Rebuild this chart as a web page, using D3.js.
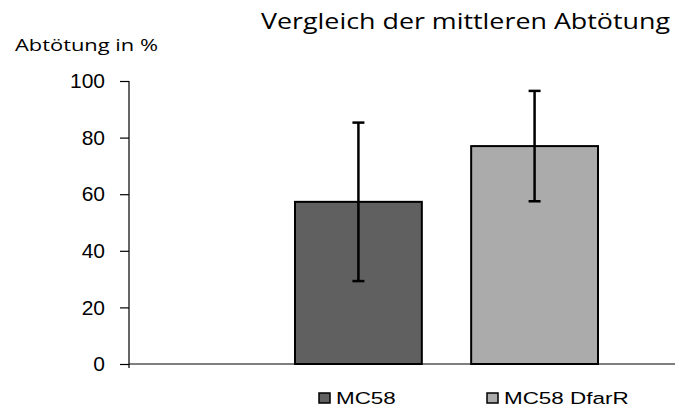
<!DOCTYPE html>
<html lang="de">
<head>
<meta charset="UTF-8">
<title>Vergleich der mittleren Abtötung</title>
<script src="https://d3js.org/d3.v7.min.js"></script>
<style>
  body { margin: 0; background: #fff; }
  svg { display: block; }
  .tick text { font-family: "Liberation Sans", Arial, sans-serif; font-size: 21px; fill: #000; }
</style>
</head>
<body>
<svg width="675" height="410"></svg>
<script>
const series = ["MC58", "MC58 DfarR"];
const means = [57.3, 77.0];
const errors = [28.0, 19.5];
const colors = ["#606060", "#ababab"];
const yTicks = [0, 20, 40, 60, 80, 100];

const margin = { top: 81, right: 0, bottom: 46, left: 129 };
const width = 675 - margin.left - margin.right;
const height = 410 - margin.top - margin.bottom;

const svg = d3.select("svg");
const g = svg.append("g").attr("transform", `translate(${margin.left},${margin.top})`);

const y = d3.scaleLinear().domain([0, 100]).range([height, 0]);
const x = d3.scaleBand().domain(series).range([166, 469]).paddingInner(0.28).paddingOuter(0);

// y axis
const yAxis = g.append("g")
    .call(d3.axisLeft(y).tickValues(yTicks).tickSize(9).tickPadding(15));
yAxis.selectAll("path, line").attr("stroke", "#000").attr("stroke-width", 1.2);
yAxis.select(".domain").attr("d", `M-9,0.5H0V${height + 4}`);

// x axis line
g.append("line")
    .attr("x1", 0).attr("x2", width)
    .attr("y1", y(0)).attr("y2", y(0))
    .attr("stroke", "#000").attr("stroke-width", 1.2);

// bars
g.selectAll(".bar").data(series).enter().append("rect")
    .attr("x", d => x(d))
    .attr("y", (d, i) => y(means[i]))
    .attr("width", x.bandwidth())
    .attr("height", (d, i) => y(0) - y(means[i]))
    .attr("fill", (d, i) => colors[i])
    .attr("stroke", "#000")
    .attr("stroke-width", 2);

// error bars
const eb = g.selectAll(".err").data(series).enter().append("g")
    .attr("transform", d => `translate(${x(d) + x.bandwidth() / 2},0)`);
eb.append("line")
    .attr("y1", (d, i) => y(means[i] + errors[i]))
    .attr("y2", (d, i) => y(means[i] - errors[i]))
    .attr("stroke", "#000").attr("stroke-width", 2.5);
eb.append("line")
    .attr("x1", -6).attr("x2", 6)
    .attr("y1", (d, i) => y(means[i] + errors[i]))
    .attr("y2", (d, i) => y(means[i] + errors[i]))
    .attr("stroke", "#000").attr("stroke-width", 2.5);
eb.append("line")
    .attr("x1", -6).attr("x2", 6)
    .attr("y1", (d, i) => y(means[i] - errors[i]))
    .attr("y2", (d, i) => y(means[i] - errors[i]))
    .attr("stroke", "#000").attr("stroke-width", 2.5);

// legend (text is stretched wide like the original)
const legX = [319, 487];
series.forEach((s, i) => {
    svg.append("rect")
        .attr("x", legX[i]).attr("y", 393)
        .attr("width", 11).attr("height", 10)
        .attr("fill", colors[i]).attr("stroke", "#000").attr("stroke-width", 1.5);
    svg.append("text")
        .attr("transform", `translate(${legX[i] + 17},404) scale(1.32,1)`)
        .attr("font-family", "Liberation Sans, Arial, sans-serif")
        .attr("font-size", 17)
        .text(s);
});

// title and axis label
svg.append("text")
    .attr("x", 261).attr("y", 29)
    .attr("font-family", "Open Sans, sans-serif")
    .attr("font-size", 22)
    .attr("textLength", 409)
    .attr("lengthAdjust", "spacingAndGlyphs")
    .text("Vergleich der mittleren Abtötung");

svg.append("text")
    .attr("x", 15).attr("y", 51)
    .attr("font-family", "Open Sans, sans-serif")
    .attr("font-size", 17)
    .attr("textLength", 143)
    .attr("lengthAdjust", "spacingAndGlyphs")
    .text("Abtötung in %");
</script>
</body>
</html>
